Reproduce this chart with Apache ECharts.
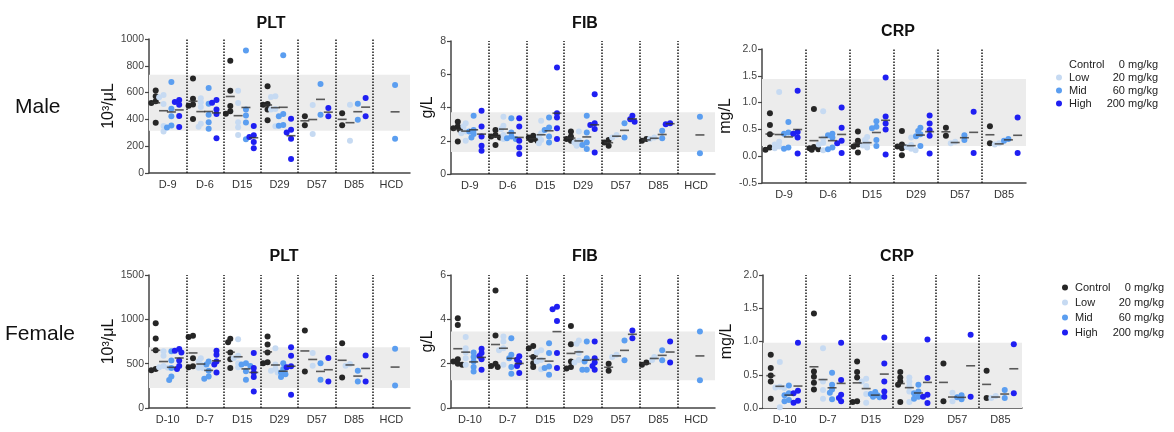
<!DOCTYPE html>
<html>
<head>
<meta charset="utf-8">
<script src="https://cdn.jsdelivr.net/npm/echarts@6/dist/echarts.min.js"></script>
<style>
  html, body { margin: 0; padding: 0; background: #fff; }
  #main { width: 1174px; height: 432px; }
</style>
</head>
<body>
<div id="main"></div>
<script>
const maleDays = ['D-9', 'D-6', 'D15', 'D29', 'D57', 'D85', 'HCD'];
const femaleDays = ['D-10', 'D-7', 'D15', 'D29', 'D57', 'D85', 'HCD'];
const groupNames = ['Control', 'Low', 'Mid', 'High'];
const doses = ['0 mg/kg', '20 mg/kg', '60 mg/kg', '200 mg/kg'];

// male PLT (10^3/uL), one inner list per time point; Mid holds the HCD column too
const maleCtrlPLT = [[615,572,535,522,375],[706,555,512,502,403],[838,614,500,460,443],[647,515,510,473,393],[423,356],[445,356]];
const maleLowPLT  = [[583,565,515,350,310],[557,528,493,368,345],[614,522,378,341,284],[572,567,478,473,348],[507,291],[510,241]];
const maleMidPLT  = [[680,480,423,355,340],[635,517,435,378,330],[915,473,430,376,251],[878,440,423,358,353],[664,435],[517,398],[657,256]];
const maleHighPLT = [[545,530,510,425,343],[545,525,473,440,260],[351,281,269,231,184],[405,323,303,256,104],[485,423],[560,423]];

const maleCtrlFIB = [[3.15,2.85,2.75,2.65,1.95],[2.65,2.35,2.25,2.2,1.75],[2.3,2.2,2.1,2.05,1.98],[2.55,2.25,2.1,2.0,1.9],[2.05,1.9,1.7],[2.1,2.0]];
const maleLowFIB  = [[3.05,2.85,2.55,2.45,2.0],[3.45,2.9,2.7,2.35,2.1],[3.2,2.45,2.25,2.05,1.85],[2.55,2.0,1.9,1.8,1.7],[2.35,2.2],[2.2,2.1]];
const maleMidFIB  = [[3.5,2.65,2.55,2.4,2.2],[3.35,2.5,2.25,2.15,2.1],[3.4,2.8,2.65,2.25,1.9],[3.5,2.5,1.9,1.75,1.5],[3.05,2.2],[2.6,2.15],[3.45,1.25]];
const maleHighFIB = [[3.8,2.85,2.25,1.7,1.4],[3.35,2.85,2.0,1.6,1.2],[6.4,3.65,3.4,2.75,2.1],[4.8,3.05,2.95,2.7,1.3],[3.5,3.3,3.15],[3.05,3.0]];

const maleCtrlCRP = [[0.8,0.58,0.41,0.16,0.12],[0.88,0.17,0.15,0.13,0.12],[0.46,0.29,0.22,0.18,0.07],[0.47,0.22,0.18,0.15,0.02],[0.53,0.38],[0.56,0.24]];
const maleLowCRP  = [[1.2,0.27,0.22,0.18,0.15],[0.84,0.33,0.25,0.22,0.11],[0.36,0.3,0.24,0.2,0.16],[0.35,0.21,0.17,0.14,0.11],[0.27,0.24],[0.24,0.22]];
const maleMidCRP  = [[0.64,0.44,0.42,0.16,0.14],[0.42,0.39,0.35,0.16,0.13],[0.65,0.55,0.52,0.3,0.19],[0.53,0.47,0.41,0.37,0.19],[0.39,0.3],[0.32,0.29]];
const maleHighCRP = [[1.22,0.45,0.42,0.35,0.05],[0.91,0.53,0.29,0.24,0.06],[1.47,0.74,0.61,0.5,0.03],[0.76,0.61,0.49,0.38,0.05],[0.83,0.06],[0.72,0.06]];

const femaleCtrlPLT = [[955,785,650,440,425],[815,800,560,470,460],[780,742,626,550,450],[805,715,625,515,505],[874,413],[731,345]];
const femaleLowPLT  = [[640,590,475,460,455],[560,525,490,455,450],[775,590,560,505,460],[675,490,440,420,400],[619,476],[495,476]];
const femaleMidPLT  = [[640,535,450,355,315],[525,490,420,355,330],[505,490,475,415,320],[505,440,400,380,350],[506,319],[420,300],[668,255]];
const femaleHighPLT = [[665,645,625,535,475,440],[645,600,525,490,400],[620,450,400,350,185],[685,590,470,460,150],[563,300],[593,300]];

const femaleCtrlFIB = [[4.05,3.75,2.2,2.1,2.0,1.95],[5.3,3.27,2.0,1.9,1.85],[2.8,2.7,2.3,2.02,1.85],[3.7,2.88,2.1,1.85,1.78],[2.0,1.68],[2.05,1.95]];
const femaleLowFIB  = [[3.2,2.7,2.5,2.25,1.95],[3.23,3.0,2.7,2.6,1.95],[2.6,2.5,2.17,2.1,1.75],[3.05,2.9,2.48,2.17,2.05],[2.4,2.3],[2.3,2.17]];
const femaleMidFIB  = [[2.5,2.3,2.1,1.85,1.65],[3.15,2.4,2.25,1.85,1.55],[2.92,2.48,1.87,1.8,1.5],[3.0,2.25,2.1,1.72,1.72],[3.05,2.15],[2.6,2.15],[3.45,1.25]];
const femaleHighFIB = [[2.67,2.48,2.35,2.2,1.72],[2.33,2.18,2.05,1.9,1.58],[4.57,4.45,3.93,2.48,1.8],[3.0,2.25,2.05,1.9,1.72],[3.5,3.15],[3.0,2.05]];

const femaleCtrlCRP = [[0.8,0.6,0.49,0.4,0.14],[1.42,0.55,0.47,0.38,0.28],[0.7,0.54,0.46,0.1,0.09],[0.54,0.46,0.4,0.35,0.09],[0.67,0.1],[0.56,0.15]];
const femaleLowCRP  = [[0.69,0.32,0.31,0.3,0.01],[0.9,0.4,0.27,0.14],[0.44,0.4,0.33,0.21,0.08],[0.46,0.4,0.33,0.25,0.09],[0.23,0.1],[0.18,0.15]];
const femaleMidCRP  = [[0.34,0.22,0.19,0.12,0.1],[0.53,0.35,0.28,0.23,0.13],[0.24,0.21,0.19,0.17,0.16],[0.35,0.25,0.22,0.17,0.14],[0.19,0.16,0.13],[0.27,0.15]];
const femaleHighCRP = [[0.98,0.26,0.22,0.11,0.08],[0.98,0.42,0.2,0.15,0.1],[1.06,0.67,0.4,0.25,0.17],[1.03,0.45,0.2,0.17,0.075],[1.1,0.17],[0.96,0.22]];

// reference ranges (grey bands)
const maleBandPLT = [316, 734];
const maleBandFIB = [1.32, 3.72];
const maleBandCRP = [0.19, 1.44];
const femaleBandPLT = [225, 686];
const femaleBandFIB = [1.25, 3.45];
const femaleBandCRP = [0, 0.98];

const colors = ['#262626', '#c6daf2', '#5b9ef0', '#1f1ff2'];
const offsets = [-0.32, -0.11, 0.1, 0.31];
const font = 'Arial, "Liberation Sans", sans-serif';

const panels = [
  { title: 'PLT', tx: 266, ty: 11, unit: '10³/μL', gap: 30, grid: { left: 149, top: 39, width: 261, height: 134 },
    days: maleDays, groups: [maleCtrlPLT, maleLowPLT, maleMidPLT, maleHighPLT], band: maleBandPLT, y: { min: 0, max: 1000, interval: 200 } },
  { title: 'FIB', tx: 580, ty: 11, unit: 'g/L', gap: 15, grid: { left: 451, top: 41, width: 264, height: 133 },
    days: maleDays, groups: [maleCtrlFIB, maleLowFIB, maleMidFIB, maleHighFIB], band: maleBandFIB, y: { min: 0, max: 8, interval: 2 } },
  { title: 'CRP', tx: 893, ty: 19, unit: 'mg/L', gap: 28, grid: { left: 762, top: 49, width: 264, height: 134 },
    days: maleDays.slice(0, 6), groups: [maleCtrlCRP, maleLowCRP, maleMidCRP, maleHighCRP], band: maleBandCRP, y: { min: -0.5, max: 2, interval: 0.5 }, dec: 1 },
  { title: 'PLT', tx: 279, ty: 244, unit: '10³/μL', gap: 30, grid: { left: 149, top: 275, width: 261, height: 133 },
    days: femaleDays, groups: [femaleCtrlPLT, femaleLowPLT, femaleMidPLT, femaleHighPLT], band: femaleBandPLT, y: { min: 0, max: 1500, interval: 500 } },
  { title: 'FIB', tx: 580, ty: 244, unit: 'g/L', gap: 15, grid: { left: 451, top: 275, width: 264, height: 133 },
    days: femaleDays, groups: [femaleCtrlFIB, femaleLowFIB, femaleMidFIB, femaleHighFIB], band: femaleBandFIB, y: { min: 0, max: 6, interval: 2 } },
  { title: 'CRP', tx: 892, ty: 244, unit: 'mg/L', gap: 28, grid: { left: 763, top: 275, width: 259, height: 133 },
    days: femaleDays.slice(0, 6), groups: [femaleCtrlCRP, femaleLowCRP, femaleMidCRP, femaleHighCRP], band: femaleBandCRP, y: { min: 0, max: 2, interval: 0.5 }, dec: 1 }
];

// spread overlapping dots sideways, a little like the prism scatter
function swarm(vals, center, pxX, pxY) {
  const placed = [];
  const steps = [0, -2.2, 2.2, -4.4, 4.4];
  vals.slice().sort((a, b) => b - a).forEach(v => {
    let best = null, bestD = -1;
    for (const s of steps) {
      const x = center + s / pxX;
      let d = Infinity;
      placed.forEach(p => {
        d = Math.min(d, Math.hypot((p[0] - x) * pxX, (p[1] - v) * pxY));
      });
      if (d >= 3.6) { best = x; break; }
      if (d > bestD) { bestD = d; best = x; }
    }
    placed.push([best, v]);
  });
  return placed;
}

const grid = [], xAxis = [], yAxis = [], series = [], title = [];
const axisLine = { lineStyle: { color: '#444', width: 1.5 } };

panels.forEach((p, i) => {
  const n = p.days.length;
  grid.push(p.grid);
  title.push({ text: p.title, left: p.tx, top: p.ty, textAlign: 'center',
    textStyle: { fontSize: 16, fontWeight: 'bold', color: '#111', fontFamily: font } });
  xAxis.push({ type: 'category', gridIndex: i, data: p.days, boundaryGap: true,
    axisLine: Object.assign({ onZero: false }, axisLine),
    axisTick: { alignWithLabel: true, length: 4, lineStyle: { color: '#444', width: 1.2 } },
    axisLabel: { fontSize: 11, color: '#333', margin: 6, fontFamily: font } });
  xAxis.push({ type: 'value', gridIndex: i, min: 0, max: n, show: false });
  yAxis.push({ type: 'value', gridIndex: i, min: p.y.min, max: p.y.max, interval: p.y.interval,
    name: p.unit, nameLocation: 'middle', nameGap: p.gap,
    nameTextStyle: { fontSize: 16, color: '#111', fontFamily: font },
    axisLine: Object.assign({ show: true, onZero: false }, axisLine),
    axisTick: { show: true, length: 4, lineStyle: { color: '#444', width: 1.2 } },
    splitLine: { show: false },
    axisLabel: { fontSize: 10.5, color: '#444', margin: 5, fontFamily: font,
      formatter: v => p.dec ? v.toFixed(p.dec) : String(v) } });

  const xIdx = i * 2 + 1;
  const pxX = p.grid.width / n;
  const pxY = p.grid.height / (p.y.max - p.y.min);

  // band + separators
  series.push({ type: 'scatter', xAxisIndex: xIdx, yAxisIndex: i, data: [], silent: true, z: 1,
    markArea: { silent: true, itemStyle: { color: '#ececec' },
      data: [[{ yAxis: p.band[0] }, { yAxis: p.band[1] }]] },
    markLine: { silent: true, symbol: 'none', label: { show: false },
      lineStyle: { color: '#1a1a1a', type: 'dotted', width: 1.5 },
      data: Array.from({ length: n - 1 }, (_, k) => ({ xAxis: k + 1 })) } });

  const means = [];
  p.groups.forEach((grp, g) => {
    const pts = [];
    grp.forEach((vals, t) => {
      if (!vals.length) return;
      const c = t + 0.5 + offsets[g];
      swarm(vals, c, pxX, pxY).forEach(q => pts.push(q));
      means.push([c, vals.reduce((a, b) => a + b, 0) / vals.length]);
    });
    series.push({ name: groupNames[g], type: 'scatter', xAxisIndex: xIdx, yAxisIndex: i,
      data: pts, symbolSize: 6, itemStyle: { color: colors[g], opacity: 1 }, z: 3 });
  });
  series.push({ type: 'scatter', xAxisIndex: xIdx, yAxisIndex: i, data: means, silent: true,
    symbol: 'rect', symbolSize: [9, 1.6], itemStyle: { color: '#333' }, z: 4 });
});

const legendText = {
  padding: [0, 0, 0, 2],
  rich: {
    n: { width: 44, fontSize: 11, color: '#222', fontFamily: font, lineHeight: 14 },
    d: { width: 45, align: 'right', fontSize: 11, color: '#222', fontFamily: font, lineHeight: 14 }
  }
};
const legendFmt = name => `{n|${name}}{d|${doses[groupNames.indexOf(name)]}}`;

const option = {
  animation: false,
  title,
  grid,
  xAxis,
  yAxis,
  series,
  legend: [
    { orient: 'vertical', left: 1051, top: 54, itemWidth: 6, itemHeight: 6, itemGap: 2, icon: 'circle',
      selectedMode: false, formatter: legendFmt, textStyle: legendText,
      data: groupNames.map((nm, k) => k === 0 ? { name: nm, itemStyle: { opacity: 0 } } : { name: nm }) },
    { orient: 'vertical', left: 1057, top: 277, itemWidth: 6, itemHeight: 6, itemGap: 4, icon: 'circle',
      selectedMode: false, formatter: legendFmt, textStyle: legendText, data: groupNames }
  ],
  graphic: [
    { type: 'text', left: 15, top: 97, style: { text: 'Male', fontSize: 21, fill: '#111', fontFamily: font } },
    { type: 'text', left: 5, top: 324, style: { text: 'Female', fontSize: 21, fill: '#111', fontFamily: font } }
  ]
};

const chart = echarts.init(document.getElementById('main'));
chart.setOption(option);
</script>
</body>
</html>
